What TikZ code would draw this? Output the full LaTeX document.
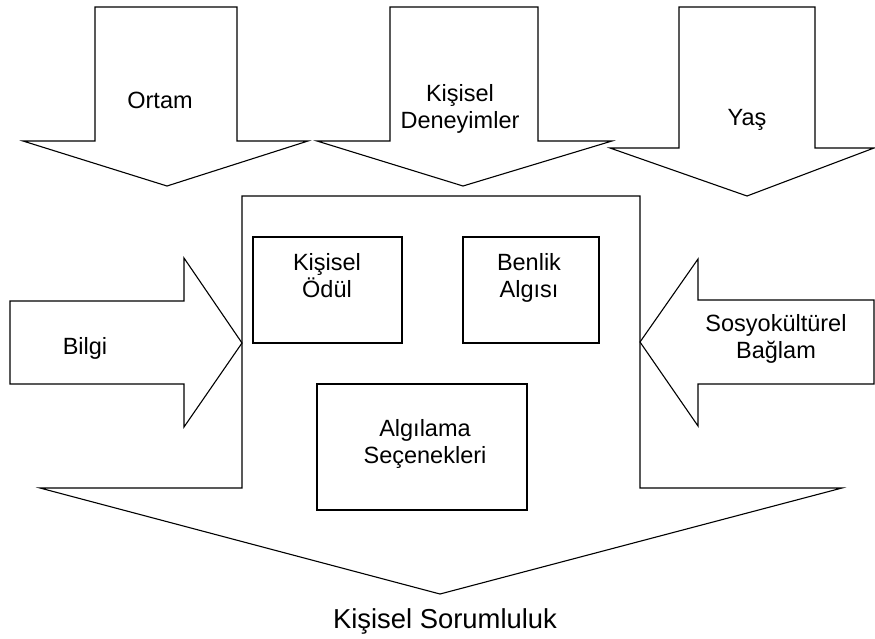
\documentclass[tikz,border=0pt]{standalone}
\usepackage{fontspec}
\setmainfont{Liberation Sans}
\begin{document}
\begin{tikzpicture}[x=1pt,y=-1pt,line width=1.1pt,line join=miter,
  arrowshape/.style={draw=black},
  lbl/.style={font=\fontsize{23.5}{27}\selectfont,anchor=base,inner sep=0pt,align=center},
  biglbl/.style={font=\fontsize{27.4}{31}\selectfont,anchor=base,inner sep=0pt},
  inbox/.style={draw=black,rectangle,inner sep=0pt,line width=1.1pt}]
\useasboundingbox (0,0) rectangle (875,638);
% top arrows
\draw[arrowshape] (95,7) -- (237,7) -- (237,141) -- (308,141) -- (167,186) -- (23,141) -- (95,141) -- cycle;
\draw[arrowshape] (390,7) -- (538,7) -- (538,141) -- (612,141) -- (463,186) -- (317,141) -- (390,141) -- cycle;
\draw[arrowshape] (679,7) -- (815,7) -- (815,148) -- (874,148) -- (747,196) -- (610,148) -- (679,148) -- cycle;
% big frame arrow
\draw[arrowshape] (242,196) -- (640,196) -- (640,488) -- (842,488) -- (440,594) -- (40,488) -- (242,488) -- cycle;
% side arrows
\draw[arrowshape] (10,301) -- (184,301) -- (184,258) -- (242,343) -- (184,427) -- (184,384) -- (10,384) -- cycle;
\draw[arrowshape] (874,300) -- (698,300) -- (698,259) -- (640,342) -- (698,426) -- (698,384) -- (874,384) -- cycle;
% inner boxes
\node[inbox,minimum width=149pt,minimum height=106pt] (odulbox) at (327.5,290) {};
\node[inbox,minimum width=136pt,minimum height=106pt] (benlikbox) at (531,290) {};
\node[inbox,minimum width=210pt,minimum height=126pt] (algbox) at (422,447) {};
% labels (base anchor = baseline of last line)
\node[lbl] (ortam) at (160,108) {Ortam};
\node[lbl] (deney) at (460,128) {Kişisel\\Deneyimler};
\node[lbl] (yas) at (747,125) {Yaş};
\node[lbl] (bilgi) at (85,354) {Bilgi};
\node[lbl] (sosyo) at (776,358) {Sosyokültürel\\Bağlam};
\node[lbl] (odul) at (327,297) {Kişisel\\Ödül};
\node[lbl] (benlik) at (529,297) {Benlik\\Algısı};
\node[lbl] (algilama) at (425,463) {Algılama\\Seçenekleri};
\node[biglbl] (sorum) at (445,628) {Kişisel Sorumluluk};
\end{tikzpicture}
\end{document}
